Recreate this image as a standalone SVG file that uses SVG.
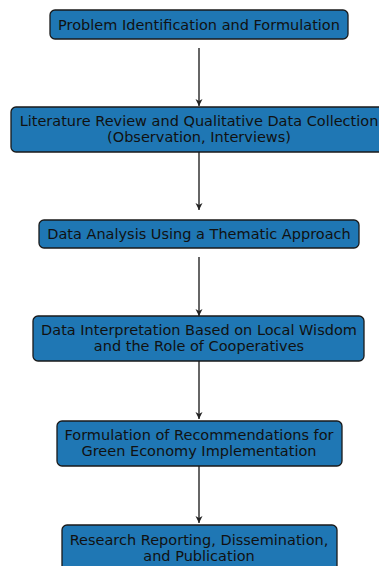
<svg xmlns="http://www.w3.org/2000/svg" width="379" height="566" viewBox="0 0 379 566">
<style>
.box{fill:#1f77b4;stroke:#1a1a1a;stroke-width:1.3}
.t{font-family:"DejaVu Sans",sans-serif;font-size:14.5px;fill:#111;text-anchor:middle}
.c{stroke:#333;stroke-width:1.5;fill:none;marker-end:url(#ah)}
</style>
<defs>
<marker id="ah" markerWidth="8" markerHeight="8" refX="7" refY="4" orient="auto" markerUnits="userSpaceOnUse">
<path d="M0,0.5 L7,4 L0,7.5 L2,4 Z" fill="#222"/>
</marker>
</defs>
<rect width="379" height="566" fill="#fff"/>
<g id="connectors">
<line class="c" x1="199" y1="48" x2="199" y2="106"/>
<line class="c" x1="199" y1="152" x2="199" y2="210"/>
<line class="c" x1="199" y1="257" x2="199" y2="316"/>
<line class="c" x1="199" y1="361" x2="199" y2="419"/>
<line class="c" x1="199" y1="466" x2="199" y2="523"/>
</g>
<g id="n1">
<rect class="box" x="50" y="10" width="298" height="29" rx="5"/>
<text class="t" x="199" y="29.5">Problem Identification and Formulation</text>
</g>
<g id="n2">
<rect class="box" x="11" y="107" width="376" height="45" rx="5"/>
<text class="t" x="199" y="126">Literature Review and Qualitative Data Collection</text>
<text class="t" x="199" y="142">(Observation, Interviews)</text>
</g>
<g id="n3">
<rect class="box" x="39" y="220" width="320" height="28" rx="5"/>
<text class="t" x="199" y="238.5">Data Analysis Using a Thematic Approach</text>
</g>
<g id="n4">
<rect class="box" x="33" y="316" width="331" height="45" rx="5"/>
<text class="t" x="199" y="334.5">Data Interpretation Based on Local Wisdom</text>
<text class="t" x="199" y="350.5">and the Role of Cooperatives</text>
</g>
<g id="n5">
<rect class="box" x="57" y="421" width="285" height="45" rx="5"/>
<text class="t" x="199" y="439.5">Formulation of Recommendations for</text>
<text class="t" x="199" y="455.5">Green Economy Implementation</text>
</g>
<g id="n6">
<rect class="box" x="62" y="525" width="275" height="50" rx="5"/>
<text class="t" x="199" y="544.5">Research Reporting, Dissemination,</text>
<text class="t" x="199" y="560.5">and Publication</text>
</g>
</svg>
